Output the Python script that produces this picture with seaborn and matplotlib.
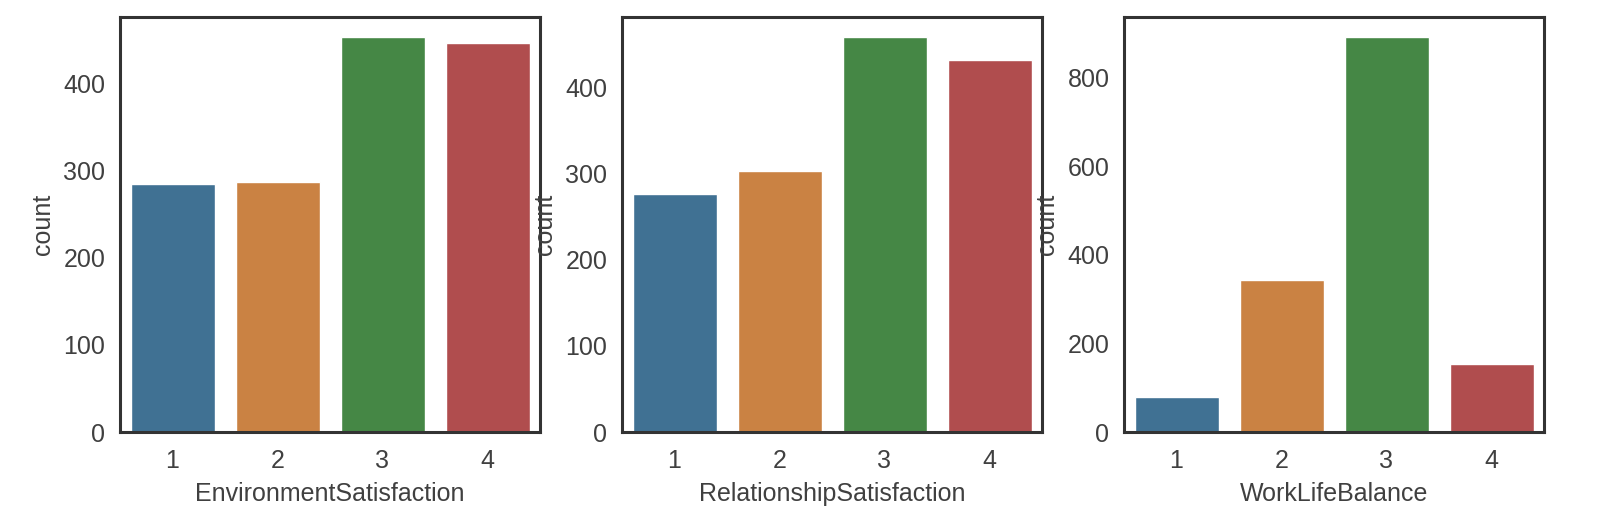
import pandas as pd
import seaborn as sns
import matplotlib.pyplot as plt

# counts per rating level
levels = [1, 2, 3, 4]
env_counts = [284, 287, 453, 446]
rel_counts = [276, 303, 459, 432]
wlb_counts = [80, 344, 893, 153]

cols = ['EnvironmentSatisfaction', 'RelationshipSatisfaction', 'WorkLifeBalance']
counts = [env_counts, rel_counts, wlb_counts]

sns.set_style('white')
plt.rcParams['font.family'] = ['Liberation Sans', 'DejaVu Sans']
plt.rcParams['axes.edgecolor'] = '.2'
plt.rcParams['axes.linewidth'] = 2.2

pal = sns.color_palette('tab10', 4, desat=0.75)

fig = plt.figure(figsize=(15.98, 5.08), dpi=100)
lefts = [120, 622, 1124]

for left, col, cnt in zip(lefts, cols, counts):
    ax = fig.add_axes([left / 1598, 76 / 508, 420 / 1598, 415 / 508])
    df = pd.DataFrame({col: levels, 'count': cnt})
    sns.barplot(data=df, x=col, y='count', hue=col, palette=pal,
                legend=False, ax=ax)
    ax.tick_params(axis='x', labelsize=18, colors='.25', pad=9)
    ax.tick_params(axis='y', labelsize=18, colors='.25', pad=7)
    ax.set_xlabel(col, fontsize=18, color='.25', labelpad=6)
    ax.set_ylabel('count', fontsize=18, color='.25', labelpad=6)

fig.savefig('out.png', dpi=100)
